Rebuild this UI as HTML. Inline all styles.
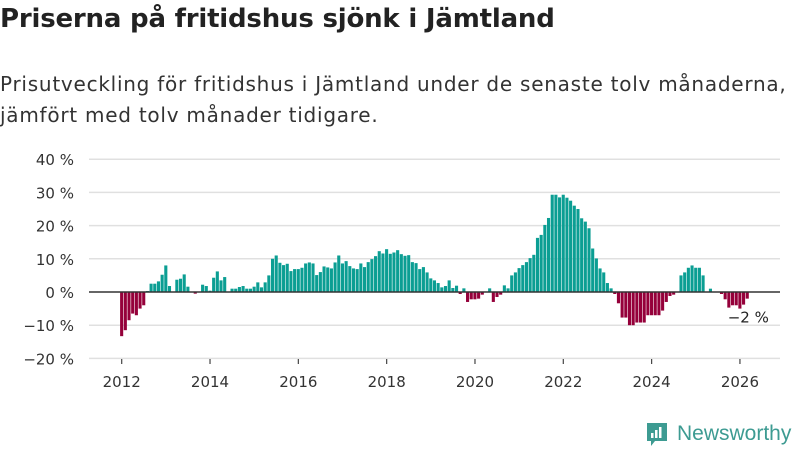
<!DOCTYPE html>
<html><head><meta charset="utf-8">
<style>
body{margin:0;width:800px;height:450px;background:#fff;overflow:hidden;font-family:"DejaVu Sans","Liberation Sans",sans-serif;color:#222}
h1{position:absolute;left:0;top:4px;margin:0;font-size:26px;font-weight:bold;letter-spacing:-0.2px;white-space:nowrap}
.sub{position:absolute;left:0;top:69px;margin:0;font-size:20px;line-height:31px;color:#333;letter-spacing:0.75px;white-space:nowrap}
svg{position:absolute;left:0;top:0}
</style></head><body>
<h1>Priserna på fritidshus sjönk i Jämtland</h1>
<p class="sub">Prisutveckling för fritidshus i Jämtland under de senaste tolv månaderna,<br>jämfört med tolv månader tidigare.</p>
<svg id="chart" width="800" height="450"></svg>
<div style="position:absolute;left:645px;top:421px;display:flex;align-items:center;gap:8px">
<svg width="24" height="26" viewBox="0 0 24 26" style="position:static"><path d="M2 2h20v18h-12l-4 5v-5h-4z" fill="#3d9b92"/><rect x="6" y="12" width="2.5" height="5" fill="#fff"/><rect x="10" y="9" width="2.5" height="8" fill="#fff"/><rect x="14" y="6" width="2.5" height="11" fill="#fff"/></svg>
<span style="font-size:21px;color:#3d9b92;font-family:'Liberation Sans',sans-serif">Newsworthy</span></div>
<script>
const startYear = 2012;
const values = [
-13.3,-11.5,-8.5,-6.5,-7,-5,-4,0.3,2.5,2.5,3.2,5.2,
8,1.8,0,3.7,4,5.3,1.6,0,-0.5,0,2.2,1.8,
0.4,4.3,6.2,3.5,4.5,0,1,1,1.5,1.8,1,1,
1.6,2.9,1.4,2.9,5,10,11,8.8,8.1,8.5,6.3,6.9,
6.9,7.3,8.6,8.9,8.6,5.1,6,7.7,7.4,7.1,8.9,11,
8.6,9.3,7.8,7.1,6.9,8.6,7.5,9,9.9,10.8,12.3,11.6,
12.9,11.5,11.9,12.6,11.4,10.9,11.1,9,8.7,6.9,7.5,5.9,
4.1,3.5,2.7,1.4,1.8,3.5,1.2,1.9,-0.6,1.1,-3,-2.2,
-2.2,-2,-0.8,0,1.1,-3,-1.5,-0.8,2,1.1,5,5.9,
7.2,8.1,9,10.2,11.2,16.3,17.2,20.2,22.3,29.3,29.3,28.5,
29.3,28.4,27.5,26,25,22.2,21.2,19.2,13.1,10.1,7.1,5.9,
2.7,1.1,-0.6,-3.4,-7.7,-7.7,-10,-10,-9.2,-9.2,-9.2,-7,
-7,-7,-7,-5.6,-3,-1.2,-0.8,0,5,5.9,7.3,8,
7.3,7.3,5,0,1,0,0,-0.6,-2.2,-4.7,-4,-4,
-5,-3.8,-2];
const yTicks = [40,30,20,10,0,-10,-20];
const xTickYears = [2012,2014,2016,2018,2020,2022,2024,2026];
const lastLabel = "−2 %";

const NS="http://www.w3.org/2000/svg";
const svg=document.getElementById('chart');
const FONT='DejaVu Sans, Liberation Sans, sans-serif';
const xs=i=>121.7+i*3.68;
const xYear=y=>xs((y-startYear)*12);
const ys=v=>292-v*3.32;
function mk(t,a){const e=document.createElementNS(NS,t);for(const k in a)e.setAttribute(k,a[k]);svg.appendChild(e);return e;}
yTicks.forEach(t=>{
  if(t!==0){const g=mk('line',{x1:89,x2:780,y1:ys(t),y2:ys(t),stroke:'#e0e0e0','stroke-width':1.5});
  
  }
  const l=mk('text',{x:74,y:ys(t)+6,'text-anchor':'end','font-size':15,fill:'#333','font-family':FONT});
  l.textContent=(t<0?'−'+(-t):t)+' %';
  
  
});
xTickYears.forEach(y=>{
  const x=xYear(y);
  const t=mk('line',{x1:x,x2:x,y1:359,y2:364,stroke:'#444','stroke-width':1.2});
  
  
  const l=mk('text',{x:x,y:387,'text-anchor':'middle','font-size':15,fill:'#333','font-family':FONT});
  l.textContent=y;
  
  
});
values.forEach((v,i)=>{
  const y0=ys(0),y1=ys(v);
  const r=mk('rect',{x:xs(i)-1.6,width:3.1,y:Math.min(y0,y1),height:Math.max(Math.abs(y1-y0),0.01),fill:v>=0?'#0b9e93':'#95003a'});
  
  
});
const z=mk('line',{x1:89,x2:780,y1:ys(0),y2:ys(0),stroke:'#333','stroke-width':1.5});


const last=values.length-1;
const lb=mk('text',{x:xs(last)+1,y:ys(values[last])+24,'text-anchor':'middle','font-size':15,fill:'#222','font-family':FONT,stroke:'#fff','stroke-width':3,'paint-order':'stroke'});
lb.textContent=lastLabel;


</script>
</body></html>
